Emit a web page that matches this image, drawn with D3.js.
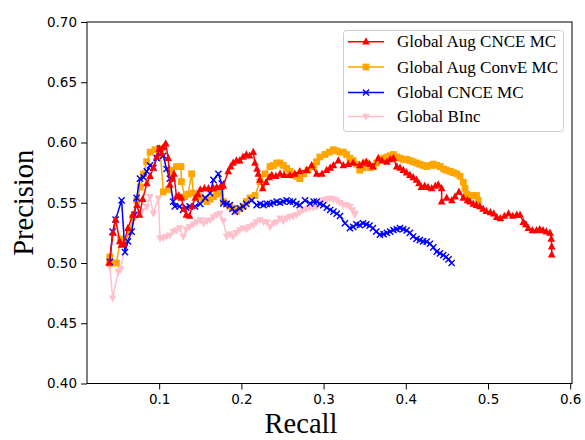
<!DOCTYPE html>
<html><head><meta charset="utf-8">
<script src="https://cdn.jsdelivr.net/npm/d3@7"></script>
<style>body{margin:0;background:#fff}svg{display:block}</style>
</head><body>
<svg id="c" width="585" height="440"></svg>
<script>
const seriesNames = ["Global Aug CNCE MC","Global Aug ConvE MC","Global CNCE MC","Global BInc"];
const seriesColors = ["red","orange","blue","pink"];
const seriesMarkers = ["triUp","square","x","triDown"];
const xTicks = [0.1,0.2,0.3,0.4,0.5,0.6];
const yTicks = [0.40,0.45,0.50,0.55,0.60,0.65,0.70];

const redRecall = [0.039,0.044,0.047,0.052,0.054,0.057,0.062,0.068,0.073,0.076,0.080,0.085,0.089,0.093,0.097,0.100,0.103,0.105,0.108,0.111,0.113,0.116,0.118,0.121,0.124,0.127,0.130,0.133,0.137,0.140,0.144,0.147,0.150,0.155,0.160,0.166,0.170,0.175,0.178,0.184,0.187,0.190,0.194,0.198,0.202,0.206,0.210,0.2145,0.2165,0.219,0.2206,0.2226,0.226,0.230,0.234,0.237,0.242,0.247,0.252,0.259,0.265,0.271,0.2795,0.2855,0.2916,0.298,0.3037,0.308,0.312,0.318,0.324,0.330,0.336,0.344,0.348,0.352,0.356,0.360,0.3666,0.371,0.377,0.381,0.385,0.389,0.393,0.397,0.401,0.405,0.409,0.413,0.416,0.419,0.423,0.427,0.4315,0.436,0.4395,0.4436,0.4436,0.4497,0.456,0.460,0.4647,0.470,0.475,0.478,0.482,0.486,0.490,0.494,0.498,0.503,0.507,0.5106,0.515,0.520,0.525,0.530,0.535,0.539,0.543,0.546,0.549,0.554,0.559,0.563,0.567,0.571,0.5754,0.577,0.5775,0.5775];
const redPrec = [0.500,0.525,0.536,0.518,0.515,0.516,0.529,0.540,0.548,0.540,0.553,0.566,0.572,0.579,0.588,0.595,0.591,0.596,0.599,0.587,0.565,0.570,0.574,0.555,0.556,0.554,0.545,0.540,0.539,0.547,0.554,0.557,0.561,0.562,0.562,0.562,0.563,0.563,0.564,0.576,0.580,0.583,0.585,0.585,0.588,0.590,0.589,0.592,0.583,0.578,0.574,0.569,0.562,0.567,0.571,0.573,0.572,0.574,0.573,0.573,0.574,0.576,0.577,0.581,0.574,0.574,0.577,0.579,0.581,0.585,0.581,0.582,0.583,0.581,0.583,0.584,0.582,0.580,0.587,0.585,0.584,0.586,0.587,0.580,0.579,0.577,0.575,0.573,0.571,0.569,0.566,0.563,0.564,0.563,0.562,0.564,0.565,0.562,0.551,0.554,0.552,0.555,0.559,0.554,0.552,0.551,0.549,0.548,0.547,0.545,0.543,0.542,0.541,0.538,0.537,0.539,0.541,0.539,0.540,0.540,0.534,0.532,0.529,0.527,0.527,0.528,0.527,0.526,0.525,0.520,0.5135,0.507];

const orangeRecall = [0.040,0.040,0.044,0.048,0.053,0.058,0.064,0.068,0.0726,0.077,0.081,0.0848,0.089,0.095,0.101,0.105,0.111,0.115,0.121,0.1265,0.127,0.131,0.135,0.1395,0.1415,0.146,0.150,0.154,0.158,0.162,0.166,0.170,0.174,0.178,0.182,0.186,0.190,0.194,0.198,0.2024,0.206,0.2105,0.2165,0.2226,0.2287,0.2348,0.239,0.243,0.247,0.251,0.255,0.259,0.263,0.267,0.271,0.276,0.281,0.2875,0.2915,0.2956,0.3017,0.307,0.312,0.316,0.320,0.324,0.328,0.332,0.336,0.340,0.344,0.348,0.3525,0.3565,0.3605,0.3646,0.3686,0.373,0.377,0.381,0.385,0.389,0.393,0.397,0.401,0.405,0.409,0.413,0.417,0.421,0.4254,0.430,0.4335,0.4376,0.442,0.446,0.4497,0.454,0.458,0.462,0.466,0.470,0.472,0.474,0.478,0.482,0.486,0.488];
const orangePrec = [0.505,0.500,0.500,0.500,0.520,0.517,0.526,0.538,0.552,0.563,0.574,0.584,0.592,0.594,0.595,0.559,0.561,0.577,0.580,0.580,0.5675,0.555,0.557,0.574,0.558,0.556,0.555,0.553,0.551,0.553,0.555,0.557,0.558,0.551,0.549,0.547,0.545,0.543,0.545,0.547,0.551,0.554,0.556,0.5675,0.574,0.580,0.581,0.583,0.583,0.581,0.5785,0.576,0.573,0.572,0.570,0.574,0.577,0.580,0.584,0.588,0.590,0.592,0.594,0.593,0.592,0.592,0.590,0.587,0.585,0.582,0.577,0.579,0.583,0.579,0.580,0.583,0.5855,0.587,0.588,0.589,0.590,0.588,0.587,0.586,0.586,0.585,0.584,0.583,0.582,0.581,0.580,0.581,0.582,0.581,0.580,0.578,0.577,0.576,0.575,0.574,0.572,0.567,0.562,0.557,0.556,0.556,0.556,0.552];

const blueRecall = [0.040,0.0434,0.047,0.0543,0.0584,0.062,0.0665,0.070,0.0726,0.0766,0.081,0.085,0.0888,0.093,0.097,0.101,0.105,0.109,0.113,0.117,0.119,0.125,0.129,0.133,0.137,0.1436,0.150,0.156,0.162,0.166,0.172,0.176,0.178,0.182,0.186,0.189,0.192,0.198,0.202,0.206,0.2125,0.2186,0.223,0.227,0.231,0.235,0.239,0.243,0.247,0.251,0.255,0.259,0.263,0.267,0.271,0.2775,0.2835,0.288,0.2916,0.2956,0.2996,0.304,0.308,0.312,0.316,0.320,0.326,0.332,0.336,0.340,0.344,0.348,0.352,0.356,0.360,0.364,0.3686,0.373,0.377,0.381,0.385,0.389,0.393,0.397,0.401,0.405,0.409,0.413,0.417,0.421,0.4254,0.4295,0.4335,0.4376,0.4416,0.4456,0.449,0.452,0.4558];
const bluePrec = [0.501,0.526,0.536,0.552,0.509,0.518,0.526,0.540,0.554,0.570,0.571,0.576,0.581,0.579,0.587,0.595,0.589,0.578,0.570,0.551,0.547,0.547,0.544,0.546,0.547,0.547,0.549,0.554,0.558,0.569,0.574,0.566,0.5495,0.549,0.548,0.545,0.5426,0.5454,0.547,0.549,0.552,0.548,0.549,0.548,0.549,0.549,0.550,0.551,0.550,0.551,0.552,0.551,0.551,0.549,0.548,0.552,0.5495,0.551,0.551,0.549,0.548,0.546,0.544,0.5426,0.541,0.539,0.533,0.529,0.530,0.532,0.5315,0.533,0.532,0.531,0.529,0.526,0.5235,0.524,0.525,0.526,0.5274,0.528,0.529,0.528,0.527,0.525,0.522,0.520,0.519,0.518,0.5177,0.516,0.513,0.5094,0.508,0.5066,0.505,0.503,0.500];

const pinkRecall = [0.040,0.0434,0.0503,0.053,0.0604,0.064,0.0685,0.0746,0.079,0.0848,0.0888,0.0928,0.099,0.101,0.105,0.109,0.113,0.117,0.121,0.125,0.1294,0.133,0.137,0.1415,0.1456,0.150,0.154,0.158,0.162,0.166,0.170,0.174,0.178,0.182,0.186,0.190,0.194,0.198,0.202,0.206,0.210,0.2145,0.218,0.2226,0.227,0.231,0.235,0.239,0.243,0.247,0.251,0.255,0.259,0.263,0.267,0.271,0.2753,0.279,0.283,0.2875,0.2916,0.2956,0.2996,0.304,0.3078,0.312,0.316,0.320,0.324,0.328,0.332,0.335,0.338,0.338];
const pinkPrec = [0.497,0.4707,0.4928,0.495,0.5177,0.527,0.5357,0.540,0.543,0.5467,0.555,0.5412,0.5537,0.5205,0.521,0.522,0.523,0.526,0.527,0.529,0.522,0.528,0.530,0.532,0.534,0.5357,0.533,0.535,0.5357,0.538,0.540,0.541,0.535,0.522,0.524,0.522,0.525,0.5274,0.529,0.528,0.530,0.5315,0.534,0.5357,0.534,0.534,0.530,0.533,0.534,0.537,0.535,0.537,0.5384,0.539,0.540,0.542,0.544,0.545,0.546,0.546,0.5467,0.550,0.5523,0.553,0.5537,0.553,0.552,0.550,0.5481,0.548,0.5467,0.544,0.5412,0.540];

const allRecall = [redRecall, orangeRecall, blueRecall, pinkRecall];
const allPrec = [redPrec, orangePrec, bluePrec, pinkPrec];

const svg = d3.select("#c");
const L = 87, R = 572, T = 22, B = 383.5;
const x = d3.scaleLinear().domain([0.0122, 0.6022]).range([L, R]);
const y = d3.scaleLinear().domain([0.40, 0.70]).range([B, T]);

// axes
const xAxis = d3.axisBottom(x).tickValues(xTicks).tickFormat(d3.format(".1f")).tickSize(6).tickPadding(5);
const yAxis = d3.axisLeft(y).tickValues(yTicks).tickFormat(d3.format(".2f")).tickSize(6).tickPadding(4);
const gx = svg.append("g").attr("transform", `translate(0,${B})`).call(xAxis);
const gy = svg.append("g").attr("transform", `translate(${L},0)`).call(yAxis);
[gx, gy].forEach(g => {
  g.select(".domain").remove();
  g.selectAll("text").attr("font-family", "DejaVu Sans").attr("font-size", 13.5).attr("fill", "#000");
  g.selectAll("line").attr("stroke", "#000").attr("stroke-width", 1);
});
svg.append("rect").attr("x", L).attr("y", T).attr("width", R - L).attr("height", B - T)
  .attr("fill", "none").attr("stroke", "#000").attr("stroke-width", 1);

// marker drawing
function drawMarker(g, type, color, cx, cy) {
  const s = 3.8;
  if (type === "triUp") {
    g.append("path").attr("d", `M${cx},${cy - s * 1.15}L${cx + s},${cy + s * 0.75}L${cx - s},${cy + s * 0.75}Z`).attr("fill", color);
  } else if (type === "triDown") {
    g.append("path").attr("d", `M${cx},${cy + s * 1.15}L${cx + s},${cy - s * 0.75}L${cx - s},${cy - s * 0.75}Z`).attr("fill", color);
  } else if (type === "square") {
    g.append("rect").attr("x", cx - 3.4).attr("y", cy - 3.4).attr("width", 6.8).attr("height", 6.8).attr("fill", color);
  } else if (type === "x") {
    const h = 3.1;
    g.append("path").attr("d", `M${cx - h},${cy - h}L${cx + h},${cy + h}M${cx - h},${cy + h}L${cx + h},${cy - h}`)
      .attr("stroke", color).attr("stroke-width", 1.4).attr("fill", "none");
  }
}

const plot = svg.append("g");
const line = d3.line().x(d => x(d[0])).y(d => y(d[1]));
const drawOrder = [3, 1, 2, 0];
drawOrder.forEach(i => {
  const pts = allRecall[i].map((r, k) => [r, allPrec[i][k]]);
  const g = plot.append("g");
  g.append("path").attr("d", line(pts)).attr("fill", "none").attr("stroke", seriesColors[i]).attr("stroke-width", 1.5);
  pts.forEach(p => drawMarker(g, seriesMarkers[i], seriesColors[i], x(p[0]), y(p[1])));
});

// legend
const lg = svg.append("g");
lg.append("rect").attr("x", 343.5).attr("y", 30.5).attr("width", 220).attr("height", 101).attr("rx", 3)
  .attr("fill", "#fff").attr("fill-opacity", 0.8).attr("stroke", "#cccccc").attr("stroke-width", 1);
const rowY = [41.7, 67.0, 92.5, 116.5];
seriesNames.forEach((n, i) => {
  lg.append("line").attr("x1", 348).attr("x2", 384).attr("y1", rowY[i]).attr("y2", rowY[i])
    .attr("stroke", seriesColors[i]).attr("stroke-width", 1.5);
  drawMarker(lg, seriesMarkers[i], seriesColors[i], 366, rowY[i]);
  lg.append("text").attr("x", 397).attr("y", rowY[i] + 5.5).text(n)
    .attr("font-family", "Liberation Serif").attr("font-size", 17).attr("fill", "#000");
});

// axis labels
svg.append("text").attr("x", 301).attr("y", 433).attr("text-anchor", "middle")
  .attr("font-family", "Liberation Serif").attr("font-size", 28.5).attr("fill", "#000").text("Recall");
svg.append("text").attr("transform", `translate(33,${(T + B) / 2}) rotate(-90)`).attr("text-anchor", "middle")
  .attr("font-family", "Liberation Serif").attr("font-size", 28.5).attr("fill", "#000").text("Precision");
</script>
</body></html>
